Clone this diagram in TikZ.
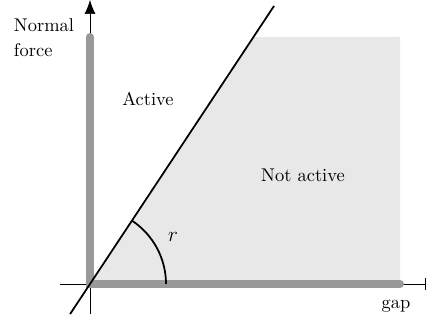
\documentclass[tikz,border=0pt]{standalone}
\usepackage{tikz}
\usetikzlibrary{arrows.meta,calc}
\usepackage{xcolor}
\definecolor{regionbg}{HTML}{E8E8E8}
\definecolor{bound}{HTML}{999999}

\begin{document}
\begin{tikzpicture}[font=\fontsize{10.5}{14.2}\selectfont]
  \useasboundingbox (-1.8,-0.8) rectangle (6.74,5.68);
  % Key points
  \coordinate (O) at (0,0);
  \coordinate (T) at ($(O)+(56.5:5.92)$);
  \coordinate (TR) at (6.2,4.94);
  \coordinate (BR) at (6.2,0);
  \coordinate (Ytop) at (0,4.94);
  % Not active region
  \fill[regionbg] (O) -- (T) -- (TR) -- (BR) -- cycle;
  % Axes
  \draw[-{Latex[length=2.8mm,width=2.2mm]}] (0,-0.6) -- (0,5.68);
  \draw[-{Bar[width=2.5mm]}] (-0.6,0) -- (6.72,0);
  % Boundary
  \draw[bound, line width=4.5pt, line cap=round] (Ytop) -- (O) -- (BR);
  % Limit line and angle
  \draw[line width=1pt] ($(O)+(56.5:-0.72)$) -- ($(O)+(56.5:6.67)$);
  \draw[line width=1pt] (1.52,0) arc[start angle=0, end angle=56.5, radius=1.52];
  \node[font=\large] (r) at (1.66,0.94) {$r$};
  % Labels
  \node (active) at (1.16,3.7) {Active};
  \node (notactive) at (4.26,2.18) {Not active};
  \node[align=left] (force) at (-0.92,4.92) {Normal\\force};
  \node (gap) at (6.12,-0.44) {gap};
\end{tikzpicture}
\end{document}
